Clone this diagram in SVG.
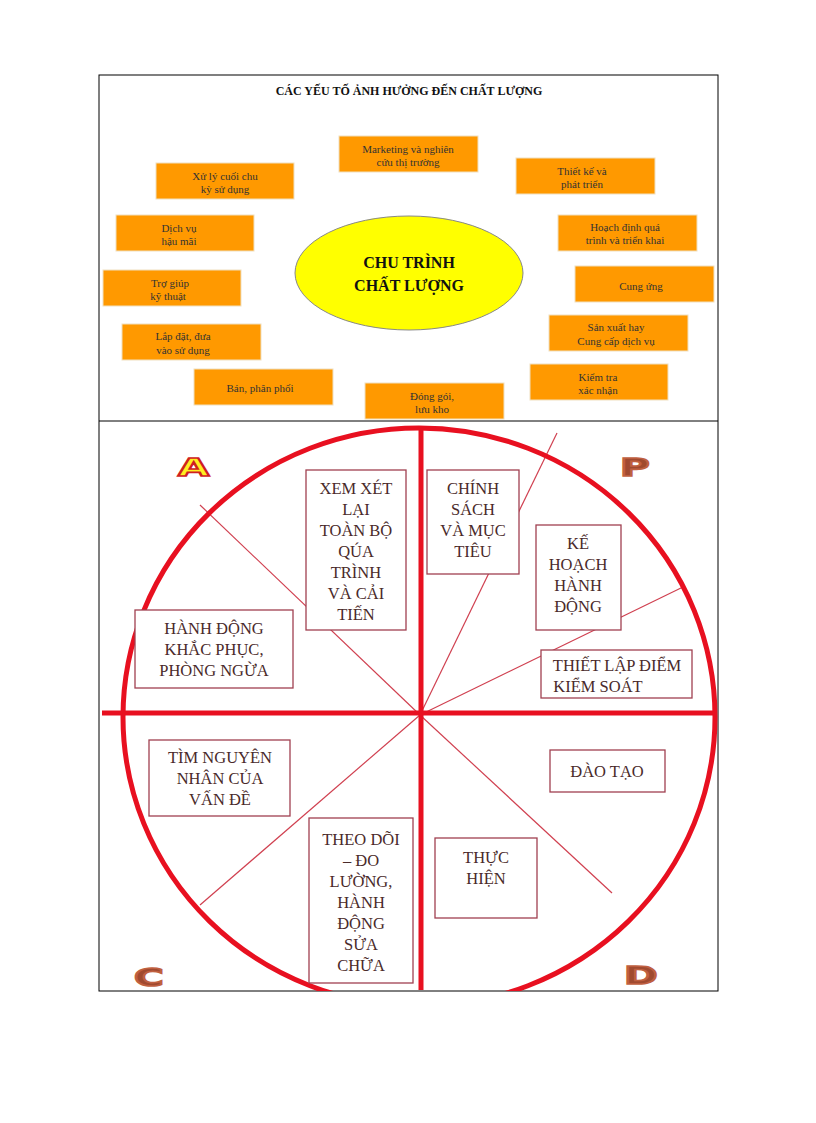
<svg xmlns="http://www.w3.org/2000/svg" width="816" height="1123" viewBox="0 0 816 1123">
<style>
.o{fill:#ff9900;stroke:#f0e0c0;stroke-width:1}
.ot{font-family:"Liberation Serif",serif;font-size:11px;fill:#333;text-anchor:middle}
.b{fill:#fff;stroke:#a04050;stroke-width:1.3}
.bt{font-family:"Liberation Serif",serif;font-size:16.5px;fill:#4a2a2a;text-anchor:middle}
.thin{stroke:#d04050;stroke-width:1.2}
.L{font-family:"DejaVu Sans",sans-serif;font-weight:bold;font-size:30px;stroke-width:2}
</style>
<defs><clipPath id="cp"><rect x="99" y="421" width="619" height="570"/></clipPath></defs>
<rect width="816" height="1123" fill="#fff"/>
<rect x="99" y="75" width="619" height="916" fill="none" stroke="#000" stroke-width="1"/>
<line x1="99" y1="421" x2="718" y2="421" stroke="#000"/>
<text x="409" y="95" font-family="Liberation Serif,serif" font-size="12" font-weight="bold" text-anchor="middle" fill="#111">CÁC YẾU TỐ ẢNH HƯỞNG ĐẾN CHẤT LƯỢNG</text>
<g id="center"><ellipse cx="409" cy="273" rx="114" ry="57" fill="#ffff00" stroke="#888" stroke-width="1"/>
<text x="409" y="268" font-family="Liberation Serif,serif" font-size="16" font-weight="bold" text-anchor="middle" fill="#111">CHU TRÌNH</text>
<text x="409" y="291" font-family="Liberation Serif,serif" font-size="16" font-weight="bold" text-anchor="middle" fill="#111">CHẤT LƯỢNG</text></g>
<g id="n1"><rect class="o" x="339" y="136" width="139" height="36"/><text class="ot" x="408" y="153">Marketing và nghiên</text><text class="ot" x="408" y="166">cứu thị trường</text></g>
<g id="n2"><rect class="o" x="156" y="163" width="138" height="36"/><text class="ot" x="225" y="180">Xử lý cuối chu</text><text class="ot" x="225" y="193">kỳ sử dụng</text></g>
<g id="n3"><rect class="o" x="516" y="158" width="139" height="36"/><text class="ot" x="582" y="175">Thiết kế và</text><text class="ot" x="582" y="188">phát triển</text></g>
<g id="n4"><rect class="o" x="116" y="215" width="138" height="36"/><text class="ot" x="179" y="232">Dịch vụ</text><text class="ot" x="179" y="245">hậu mãi</text></g>
<g id="n5"><rect class="o" x="558" y="215" width="139" height="36"/><text class="ot" x="625" y="231">Hoạch định quá</text><text class="ot" x="625" y="244">trình và triển khai</text></g>
<g id="n6"><rect class="o" x="103" y="270" width="138" height="36"/><text class="ot" x="170" y="287">Trợ giúp</text><text class="ot" x="168" y="300">kỹ thuật</text></g>
<g id="n7"><rect class="o" x="575" y="266" width="139" height="36"/><text class="ot" x="641" y="290">Cung ứng</text></g>
<g id="n8"><rect class="o" x="122" y="324" width="139" height="36"/><text class="ot" x="183" y="340">Lắp đặt, đưa</text><text class="ot" x="183" y="354">vào sử dụng</text></g>
<g id="n9"><rect class="o" x="549" y="315" width="139" height="36"/><text class="ot" x="616" y="331">Sản xuất hay</text><text class="ot" x="616" y="345">Cung cấp dịch vụ</text></g>
<g id="n10"><rect class="o" x="194" y="369" width="139" height="36"/><text class="ot" x="260" y="392">Bán, phân phối</text></g>
<g id="n11"><rect class="o" x="365" y="383" width="139" height="36"/><text class="ot" x="432" y="400">Đóng gói,</text><text class="ot" x="432" y="413">lưu kho</text></g>
<g id="n12"><rect class="o" x="530" y="364" width="138" height="36"/><text class="ot" x="598" y="381">Kiểm tra</text><text class="ot" x="598" y="394">xác nhận</text></g>
<g id="connectors" clip-path="url(#cp)">
<line class="thin" x1="420" y1="715" x2="557" y2="433"/>
<line class="thin" x1="420" y1="715" x2="683" y2="587"/>
<line class="thin" x1="420" y1="715" x2="200" y2="505"/>
<line class="thin" x1="420" y1="715" x2="200" y2="905"/>
<line class="thin" x1="420" y1="715" x2="612" y2="893"/>
<ellipse cx="419" cy="717" rx="296" ry="289" fill="none" stroke="#e81020" stroke-width="5"/>
<line x1="102" y1="713" x2="715" y2="713" stroke="#e81020" stroke-width="5"/>
<line x1="421" y1="428" x2="421" y2="990" stroke="#e81020" stroke-width="5"/>
</g>
<g class="L">
<text transform="translate(178,476) scale(1.35,0.8)" fill="#ffee22" stroke="#d02020">A</text>
<text transform="translate(620,476) scale(1.35,0.8)" fill="#a04a30" stroke="#c06040">P</text>
<text transform="translate(134,986) scale(1.35,0.8)" fill="#a04a30" stroke="#c06040">C</text>
<text transform="translate(624,984) scale(1.35,0.8)" fill="#a04a30" stroke="#c06040">D</text>
</g>
<g id="b1"><rect class="b" x="306" y="470" width="100" height="160"/><text class="bt" x="356" y="494">XEM XÉT</text><text class="bt" x="356" y="515">LẠI</text><text class="bt" x="356" y="536">TOÀN BỘ</text><text class="bt" x="356" y="557">QÚA</text><text class="bt" x="356" y="578">TRÌNH</text><text class="bt" x="356" y="599">VÀ CẢI</text><text class="bt" x="356" y="620">TIẾN</text></g>
<g id="b2"><rect class="b" x="427" y="470" width="92" height="104"/><text class="bt" x="473" y="494">CHÍNH</text><text class="bt" x="473" y="515">SÁCH</text><text class="bt" x="473" y="536">VÀ MỤC</text><text class="bt" x="473" y="557">TIÊU</text></g>
<g id="b3"><rect class="b" x="536" y="525" width="85" height="105"/><text class="bt" x="578" y="549">KẾ</text><text class="bt" x="578" y="570">HOẠCH</text><text class="bt" x="578" y="591">HÀNH</text><text class="bt" x="578" y="612">ĐỘNG</text></g>
<g id="b4"><rect class="b" x="541" y="650" width="151" height="48"/><text class="bt" x="617" y="671">THIẾT LẬP ĐIỂM</text><text class="bt" x="598" y="692">KIỂM SOÁT</text></g>
<g id="b5"><rect class="b" x="135" y="610" width="158" height="78"/><text class="bt" x="214" y="634">HÀNH ĐỘNG</text><text class="bt" x="214" y="655">KHẮC PHỤC,</text><text class="bt" x="214" y="676">PHÒNG NGỪA</text></g>
<g id="b6"><rect class="b" x="149" y="740" width="141" height="76"/><text class="bt" x="220" y="763">TÌM NGUYÊN</text><text class="bt" x="220" y="784">NHÂN CỦA</text><text class="bt" x="220" y="805">VẤN ĐỀ</text></g>
<g id="b7"><rect class="b" x="550" y="750" width="115" height="42"/><text class="bt" x="607" y="777">ĐÀO TẠO</text></g>
<g id="b8"><rect class="b" x="309" y="818" width="104" height="165"/><text class="bt" x="361" y="845">THEO DÕI</text><text class="bt" x="361" y="866">– ĐO</text><text class="bt" x="361" y="887">LƯỜNG,</text><text class="bt" x="361" y="908">HÀNH</text><text class="bt" x="361" y="929">ĐỘNG</text><text class="bt" x="361" y="950">SỬA</text><text class="bt" x="361" y="971">CHỮA</text></g>
<g id="b9"><rect class="b" x="435" y="838" width="102" height="80"/><text class="bt" x="486" y="863">THỰC</text><text class="bt" x="486" y="884">HIỆN</text></g>
</svg>
